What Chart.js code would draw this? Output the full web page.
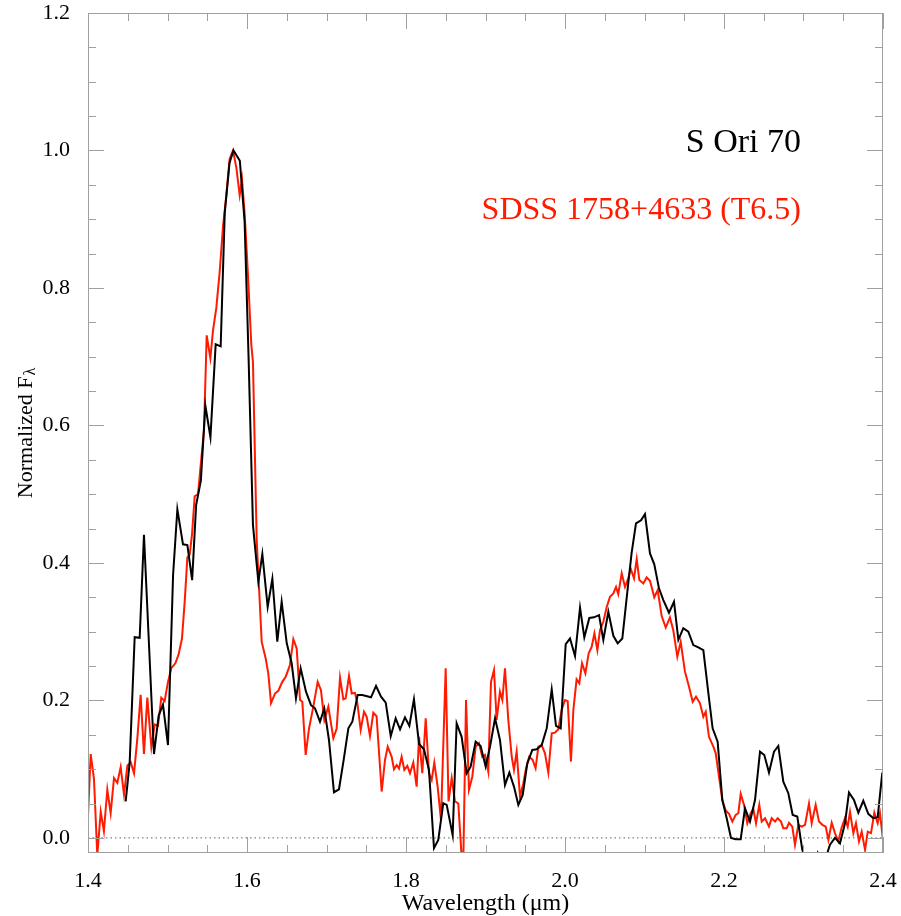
<!DOCTYPE html>
<html>
<head>
<meta charset="utf-8">
<script src="https://cdn.jsdelivr.net/npm/chart.js@4.4.1/dist/chart.umd.min.js"></script>
<style>
  html, body { margin: 0; padding: 0; background: #fff; }
  #wrap { width: 901px; height: 916px; }
</style>
</head>
<body>
<div id="wrap"><canvas id="chart"></canvas></div>
<script>
// axis ticks
const xTicks = [1.4, 1.6, 1.8, 2.0, 2.2, 2.4];
const yTicks = [0.0, 0.2, 0.4, 0.6, 0.8, 1.0, 1.2];

// S Ori 70 (black)
const oriWave = [1.4474, 1.4524, 1.4587, 1.465, 1.4704, 1.483, 1.4889, 1.4943, 1.5006, 1.507, 1.5124, 1.5195, 1.525, 1.531, 1.536, 1.542, 1.5476, 1.554, 1.5606, 1.5669, 1.572, 1.578, 1.583, 1.591, 1.597, 1.602, 1.6075, 1.6143, 1.6193, 1.626, 1.6319, 1.6381, 1.6436, 1.65, 1.6562, 1.6616, 1.6675, 1.6742, 1.6805, 1.6855, 1.6918, 1.6972, 1.7031, 1.7094, 1.7157, 1.7216, 1.7275, 1.7325, 1.7392, 1.745, 1.756, 1.7623, 1.7686, 1.7745, 1.7808, 1.787, 1.7925, 1.7987, 1.8042, 1.81, 1.8164, 1.8226, 1.8289, 1.8352, 1.8406, 1.8469, 1.8512, 1.8587, 1.8637, 1.87, 1.8763, 1.8813, 1.8876, 1.8939, 1.9002, 1.9057, 1.912, 1.9182, 1.9245, 1.93, 1.9358, 1.9413, 1.9468, 1.9526, 1.9589, 1.9644, 1.9707, 1.977, 1.9833, 1.9887, 1.9946, 2.0009, 2.0063, 2.0126, 2.0189, 2.0243, 2.0306, 2.0365, 2.0428, 2.0482, 2.0545, 2.0608, 2.0663, 2.0721, 2.0784, 2.0838, 2.0893, 2.0956, 2.1006, 2.1069, 2.1123, 2.1182, 2.1237, 2.1308, 2.1371, 2.1426, 2.1488, 2.1551, 2.1614, 2.1677, 2.174, 2.1803, 2.1857, 2.192, 2.1979, 2.2034, 2.2088, 2.2147, 2.221, 2.2264, 2.2327, 2.239, 2.2453, 2.2507, 2.2566, 2.2629, 2.2683, 2.2746, 2.2809, 2.2864, 2.2922, 2.2985, 2.305, 2.312, 2.318, 2.325, 2.3333, 2.3396, 2.3459, 2.3522, 2.3572, 2.3635, 2.369, 2.3752, 2.3815, 2.3878, 2.3933, 2.3991];
const oriFlux = [0.053, 0.109, 0.292, 0.291, 0.441, 0.122, 0.178, 0.194, 0.135, 0.382, 0.478, 0.427, 0.426, 0.375, 0.484, 0.520, 0.629, 0.583, 0.718, 0.715, 0.909, 0.982, 1.0, 0.985, 0.896, 0.698, 0.455, 0.3725, 0.4128, 0.336, 0.377, 0.2853, 0.3435, 0.283, 0.254, 0.203, 0.2466, 0.2127, 0.193, 0.1885, 0.169, 0.1885, 0.1424, 0.0664, 0.0707, 0.1134, 0.1594, 0.169, 0.2078, 0.2078, 0.2045, 0.221, 0.2054, 0.1967, 0.148, 0.174, 0.158, 0.1754, 0.1628, 0.2016, 0.1366, 0.129, 0.0988, -0.015, -0.003, 0.0504, 0.048, 0.004, 0.1667, 0.147, 0.094, 0.1036, 0.14, 0.1337, 0.1036, 0.1327, 0.174, 0.1424, 0.077, 0.095, 0.0746, 0.048, 0.0625, 0.1085, 0.128, 0.129, 0.135, 0.1594, 0.216, 0.163, 0.1594, 0.282, 0.29, 0.2645, 0.335, 0.2917, 0.32, 0.3208, 0.324, 0.288, 0.329, 0.294, 0.283, 0.29, 0.358, 0.4147, 0.4574, 0.462, 0.471, 0.4138, 0.398, 0.363, 0.346, 0.3275, 0.3435, 0.288, 0.305, 0.3, 0.2805, 0.277, 0.273, 0.211, 0.1594, 0.14, 0.055, 0.0286, 0.0, -0.002, -0.002, 0.043, 0.0237, 0.055, 0.1255, 0.1206, 0.095, 0.1255, 0.1337, 0.0818, 0.065, 0.0334, 0.031, -0.0174, -0.04, -0.05, -0.022, -0.04, -0.010, 0.0, -0.008, 0.0213, 0.066, 0.055, 0.0368, 0.054, 0.035, 0.0286, 0.030, 0.095];

// SDSS 1758+4633 (red)
const sdssWave = [1.4, 1.4034, 1.4075, 1.4117, 1.416, 1.42, 1.4243, 1.4285, 1.4327, 1.4369, 1.4411, 1.4453, 1.4495, 1.4537, 1.4579, 1.4621, 1.4662, 1.4704, 1.4746, 1.4797, 1.4839, 1.488, 1.4922, 1.4964, 1.5006, 1.5048, 1.5099, 1.514, 1.5182, 1.5216, 1.525, 1.5279, 1.5308, 1.5342, 1.5384, 1.5426, 1.5459, 1.5493, 1.5539, 1.5572, 1.5614, 1.5656, 1.5698, 1.574, 1.5782, 1.5824, 1.5866, 1.5908, 1.5937, 1.597, 1.6013, 1.6054, 1.6075, 1.6122, 1.6185, 1.6235, 1.6268, 1.6302, 1.6352, 1.6394, 1.6444, 1.6487, 1.654, 1.6583, 1.6625, 1.6667, 1.6696, 1.6738, 1.678, 1.6834, 1.6889, 1.693, 1.6973, 1.7023, 1.7086, 1.7128, 1.717, 1.7212, 1.7241, 1.7283, 1.7317, 1.7358, 1.7388, 1.743, 1.7472, 1.7505, 1.7547, 1.7589, 1.763, 1.7694, 1.7736, 1.777, 1.782, 1.7849, 1.7883, 1.7912, 1.7945, 1.7979, 1.8017, 1.805, 1.8092, 1.8134, 1.8164, 1.8205, 1.8248, 1.8289, 1.8323, 1.8356, 1.8398, 1.844, 1.8499, 1.8535, 1.8575, 1.8616, 1.8658, 1.8717, 1.8755, 1.8792, 1.8834, 1.8876, 1.8918, 1.896, 1.8994, 1.9035, 1.9069, 1.9107, 1.914, 1.9182, 1.9212, 1.9245, 1.9287, 1.933, 1.9358, 1.9392, 1.9434, 1.9476, 1.951, 1.955, 1.9593, 1.963, 1.9665, 1.9707, 1.9748, 1.979, 1.9833, 1.9874, 1.9916, 1.9958, 2.0, 2.0034, 2.0075, 2.0105, 2.0146, 2.018, 2.0214, 2.0256, 2.0298, 2.0336, 2.037, 2.0407, 2.044, 2.0482, 2.0525, 2.0566, 2.0608, 2.0642, 2.067, 2.0713, 2.0755, 2.0796, 2.0826, 2.0868, 2.0902, 2.0935, 2.0985, 2.1027, 2.1069, 2.1123, 2.1166, 2.1216, 2.1267, 2.132, 2.1362, 2.1413, 2.1455, 2.1509, 2.156, 2.1606, 2.1648, 2.1698, 2.174, 2.177, 2.1811, 2.1866, 2.1896, 2.1937, 2.1979, 2.2021, 2.2063, 2.2105, 2.2147, 2.218, 2.221, 2.2252, 2.2293, 2.2336, 2.2369, 2.2403, 2.2444, 2.2474, 2.2516, 2.2566, 2.26, 2.2642, 2.2675, 2.2717, 2.2746, 2.2788, 2.2818, 2.2859, 2.2893, 2.2935, 2.2977, 2.3019, 2.3069, 2.3103, 2.3153, 2.3195, 2.3237, 2.3279, 2.3313, 2.3355, 2.3396, 2.3438, 2.348, 2.3522, 2.3556, 2.3585, 2.3627, 2.366, 2.3698, 2.3732, 2.3774, 2.3808, 2.3849, 2.3891, 2.3933, 2.3962, 2.4];
const sdssFlux = [0.033, 0.122, 0.086, -0.025, 0.038, 0.01, 0.07, 0.036, 0.087, 0.08, 0.103, 0.063, 0.105, 0.11, 0.094, 0.145, 0.208, 0.122, 0.204, 0.132, 0.165, 0.163, 0.204, 0.199, 0.227, 0.247, 0.254, 0.267, 0.29, 0.343, 0.408, 0.412, 0.441, 0.497, 0.50, 0.553, 0.593, 0.731, 0.698, 0.738, 0.771, 0.823, 0.889, 0.935, 0.988, 1.0, 0.975, 0.935, 0.958, 0.909, 0.817, 0.718, 0.692, 0.433, 0.285, 0.261, 0.239, 0.196, 0.21, 0.214, 0.227, 0.2345, 0.2515, 0.289, 0.2757, 0.2006, 0.198, 0.1206, 0.159, 0.191, 0.227, 0.215, 0.1715, 0.191, 0.145, 0.159, 0.2332, 0.2016, 0.203, 0.2355, 0.21, 0.211, 0.196, 0.157, 0.1836, 0.1763, 0.148, 0.182, 0.177, 0.0674, 0.1134, 0.1327, 0.118, 0.0998, 0.106, 0.101, 0.118, 0.0988, 0.1047, 0.094, 0.1095, 0.0746, 0.147, 0.094, 0.174, 0.094, 0.0843, 0.1095, 0.0746, 0.026, 0.2466, 0.053, 0.087, 0.053, 0.05, -0.06, 0.2006, 0.07, 0.089, 0.1327, 0.1376, 0.118, 0.1206, 0.0964, 0.227, 0.244, 0.1715, 0.2127, 0.2006, 0.2466, 0.1715, 0.118, 0.0988, 0.1255, 0.06, 0.0795, 0.1013, 0.118, 0.1134, 0.1013, 0.1327, 0.135, 0.123, 0.095, 0.152, 0.153, 0.158, 0.186, 0.2006, 0.199, 0.111, 0.186, 0.2306, 0.2248, 0.254, 0.2393, 0.2684, 0.278, 0.2975, 0.273, 0.302, 0.3144, 0.336, 0.3507, 0.3556, 0.365, 0.3546, 0.385, 0.365, 0.3774, 0.392, 0.3774, 0.4055, 0.375, 0.3702, 0.3789, 0.374, 0.35, 0.3605, 0.3227, 0.306, 0.3208, 0.302, 0.2636, 0.2853, 0.2418, 0.22, 0.198, 0.2054, 0.1957, 0.1763, 0.1836, 0.147, 0.1327, 0.123, 0.089, 0.055, 0.0397, 0.035, 0.0237, 0.0334, 0.0358, 0.064, 0.048, 0.0213, 0.0358, 0.0417, 0.0213, 0.048, 0.0237, 0.0286, 0.0164, 0.0286, 0.0237, 0.0286, 0.0237, 0.014, 0.014, 0.022, 0.0164, -0.01, 0.019, 0.0164, 0.019, 0.05, 0.0213, 0.048, 0.0237, 0.019, 0.0164, -0.003, 0.022, 0.007, -0.005, 0.015, 0.0286, 0.0164, 0.038, 0.007, 0.0213, -0.005, 0.009, -0.0174, 0.009, 0.007, 0.0368, 0.0213, 0.0358, -0.003];

const zeroWave = [1.4, 2.4];
const zeroFlux = [0, 0];

const serif = '"Liberation Serif", "Times New Roman", serif';

function toPoints(xs, ys) {
  return xs.map((x, i) => ({ x: x, y: ys[i] }));
}

// box round the plot with inward ticks on all four sides
const frame = {
  id: 'frame',
  afterDatasetsDraw(chart) {
    const { ctx, chartArea: a, scales } = chart;
    const x = scales.x, y = scales.y;
    ctx.save();
    ctx.strokeStyle = '#a0a0a0';
    ctx.lineWidth = 1;
    ctx.strokeRect(a.left + 0.5, a.top + 0.5, a.right - a.left - 1, a.bottom - a.top - 1);
    ctx.beginPath();
    for (let i = 0; i <= 20; i++) {
      const v = 1.4 + i * 0.05;
      const px = Math.round(x.getPixelForValue(v)) + 0.5;
      const len = i % 4 === 0 ? 16 : 8;
      ctx.moveTo(px, a.bottom); ctx.lineTo(px, a.bottom - len);
      ctx.moveTo(px, a.top); ctx.lineTo(px, a.top + len);
    }
    for (let i = 0; i <= 24; i++) {
      const v = i * 0.05;
      const py = Math.round(y.getPixelForValue(v)) + 0.5;
      const len = i % 4 === 0 ? 16 : 8;
      ctx.moveTo(a.left, py); ctx.lineTo(a.left + len, py);
      ctx.moveTo(a.right, py); ctx.lineTo(a.right - len, py);
    }
    ctx.stroke();

    // y title with subscript lambda
    ctx.translate(26, (a.top + a.bottom) / 2);
    ctx.rotate(-Math.PI / 2);
    ctx.fillStyle = '#000';
    ctx.textBaseline = 'middle';
    ctx.textAlign = 'left';
    ctx.font = '22px ' + serif;
    const main = 'Normalized F';
    const wMain = ctx.measureText(main).width;
    ctx.font = '16px ' + serif;
    const wSub = ctx.measureText('\u03BB').width;
    const start = -(wMain + wSub + 1) / 2;
    ctx.font = '22px ' + serif;
    ctx.fillText(main, start, 0);
    ctx.font = '16px ' + serif;
    ctx.fillText('\u03BB', start + wMain + 1, 5);
    ctx.restore();

    // object labels
    ctx.save();
    ctx.textAlign = 'right';
    ctx.textBaseline = 'alphabetic';
    ctx.fillStyle = '#000';
    ctx.font = '34px ' + serif;
    ctx.fillText('S Ori 70', a.right - 82, 152);
    ctx.fillStyle = '#ff1a00';
    ctx.font = '32px ' + serif;
    ctx.fillText('SDSS 1758+4633 (T6.5)', a.right - 82, 219);
    ctx.restore();
  }
};

new Chart(document.getElementById('chart'), {
  type: 'line',
  data: {
    datasets: [
      {
        label: 'S Ori 70',
        data: toPoints(oriWave, oriFlux),
        borderColor: '#000000',
        borderWidth: 2,
      },
      {
        label: 'SDSS 1758+4633 (T6.5)',
        data: toPoints(sdssWave, sdssFlux),
        borderColor: '#ff1a00',
        borderWidth: 2,
      },
      {
        label: 'zero',
        data: toPoints(zeroWave, zeroFlux),
        borderColor: '#808080',
        borderWidth: 1.2,
        borderDash: [1.5, 3],
      },
    ],
  },
  options: {
    responsive: true,
    maintainAspectRatio: false,
    animation: false,
    elements: { point: { radius: 0 }, line: { tension: 0 } },
    layout: { padding: { top: 13, right: 18, left: 0, bottom: 0 } },
    plugins: { legend: { display: false }, tooltip: { enabled: false } },
    scales: {
      x: {
        type: 'linear',
        min: 1.4,
        max: 2.4,
        grid: { display: false },
        border: { display: false },
        afterBuildTicks: s => { s.ticks = xTicks.map(v => ({ value: v })); },
        afterFit: s => { s.height = 63; s.paddingLeft = 0; s.paddingRight = 0; },
        ticks: {
          autoSkip: false,
          maxRotation: 0,
          padding: 7,
          color: '#000',
          font: { family: serif, size: 22 },
          callback: v => v.toFixed(1),
        },
        title: {
          display: true,
          text: 'Wavelength (\u03BCm)',
          color: '#000',
          font: { family: serif, size: 24, lineHeight: 1 },
          padding: { top: 0, bottom: 0 },
        },
      },
      y: {
        min: -0.022,
        max: 1.2,
        grid: { display: false },
        border: { display: false },
        afterBuildTicks: s => { s.ticks = yTicks.map(v => ({ value: v })); },
        afterFit: s => { s.width = 88; s.paddingTop = 0; s.paddingBottom = 0; },
        ticks: {
          autoSkip: false,
          padding: 10,
          color: '#000',
          font: { family: serif, size: 22 },
          callback: v => v.toFixed(1),
        },
      },
    },
  },
  plugins: [frame],
});
</script>
</body>
</html>
